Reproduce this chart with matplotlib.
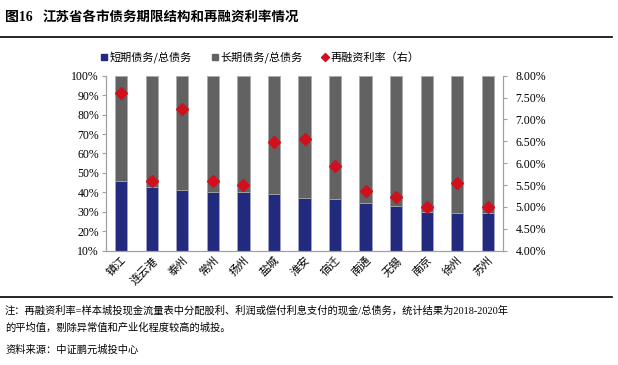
import matplotlib.pyplot as plt
from matplotlib.lines import Line2D
from matplotlib.ticker import FuncFormatter

plt.rcParams['font.family'] = ['Noto Sans CJK SC', 'DejaVu Sans']

# 数据
cities = ['镇江', '连云港', '泰州', '常州', '扬州', '盐城', '淮安',
          '宿迁', '南通', '无锡', '南京', '徐州', '苏州']
short_share = [45.9, 42.6, 41.1, 40.3, 40.2, 39.2, 37.1,
               36.4, 34.5, 33.2, 30.1, 29.4, 29.3]
long_share = [100 - v for v in short_share]
refi_rate = [7.61, 5.60, 7.25, 5.60, 5.50, 6.48, 6.56,
             5.94, 5.36, 5.22, 5.00, 5.55, 5.01]

blue = '#222A7E'
grey = '#626262'
red = '#D0101C'
num_font = ['Liberation Serif', 'Noto Sans CJK SC']

fig = plt.figure(figsize=(6.18, 3.65), dpi=100)
ax = fig.add_axes([106 / 618, 1 - 250.7 / 365, 397 / 618, 175 / 365])

x = range(len(cities))
ax.bar(x, short_share, width=0.4, color=blue, edgecolor='#A8A8C8', linewidth=0.5)
ax.bar(x, long_share, width=0.4, bottom=short_share, color=grey,
       edgecolor='#A8A8A8', linewidth=0.5)
ax.set_ylim(10, 100)
ax.set_xlim(-0.5, len(cities) - 0.5)
ax.set_yticks(range(10, 101, 10))
ax.yaxis.set_major_formatter(FuncFormatter(lambda v, p: f'{v:.0f}%'))

ax2 = ax.twinx()
ax2.plot(x, refi_rate, linestyle='none', marker='D', markersize=6,
         color=red, markeredgecolor=red)
ax2.set_ylim(4, 8)
ax2.set_yticks([4 + 0.5 * i for i in range(9)])
ax2.yaxis.set_major_formatter(FuncFormatter(lambda v, p: f'{v:.2f}%'))

for a in (ax, ax2):
    a.spines['top'].set_visible(False)
    for side in ('left', 'right', 'bottom'):
        a.spines[side].set_color('#A0A0A0')
    a.tick_params(axis='y', length=3, color='#A0A0A0', labelsize=8.5, pad=2)
    for lab in a.get_yticklabels():
        lab.set_family(num_font)
ax2.tick_params(axis='y', pad=6)

ax.set_xticks(list(x))
ax.set_xticklabels(cities, rotation=45, ha='right', rotation_mode='anchor', fontsize=8)
ax.tick_params(axis='x', length=0, pad=3)

# 图例
handles = [
    Line2D([], [], linestyle='none', marker='s', markersize=4, color=blue),
    Line2D([], [], linestyle='none', marker='s', markersize=4, color=grey),
    Line2D([], [], linestyle='none', marker='D', markersize=4, color=red),
]
fig.legend(handles, ['短期债务/总债务', '长期债务/总债务', '再融资利率（右）'],
           loc='center', bbox_to_anchor=(0.42, 1 - 57 / 365), ncol=3,
           frameon=False, fontsize=8, handletextpad=0.1, columnspacing=1.6,
           handlelength=0.8)

# 标题和注释
fig.text(5 / 618, 1 - 17 / 365, '图16', fontsize=10, fontweight='bold',
         va='center', family=num_font)
fig.text(43 / 618, 1 - 17 / 365, '江苏省各市债务期限结构和再融资利率情况',
         fontsize=9.7, fontweight='bold', va='center')
fig.add_artist(Line2D([0, 612 / 618], [1 - 37 / 365] * 2, color='black', lw=1.2))
fig.add_artist(Line2D([0, 612 / 618], [1 - 297 / 365] * 2, color='black', lw=1.2))

fig.text(5 / 618, 1 - 310 / 365,
         '注：再融资利率=样本城投现金流量表中分配股利、利润或偿付利息支付的现金/总债务，统计结果为2018-2020年',
         fontsize=7.4, va='center', family=num_font)
fig.text(5 / 618, 1 - 328 / 365, '的平均值，剔除异常值和产业化程度较高的城投。',
         fontsize=7.4, va='center')
fig.text(5 / 618, 1 - 350 / 365, '资料来源：中证鹏元城投中心', fontsize=7.4, va='center')

fig.savefig('out.png', dpi=100)
plt.close(fig)
